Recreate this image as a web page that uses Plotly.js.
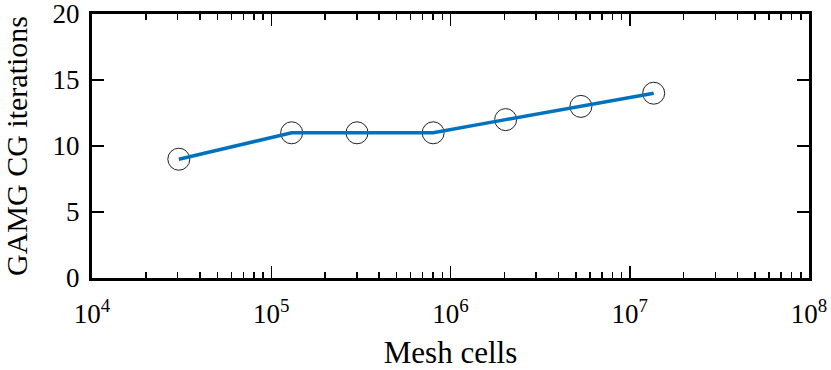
<!DOCTYPE html>
<html>
<head>
<meta charset="utf-8">
<script src="https://cdn.plot.ly/plotly-3.0.1.min.js"></script>
<style>
  html, body { margin: 0; padding: 0; background: #fff; }
  #chart { width: 831px; height: 370px; }
</style>
</head>
<body>
<div id="chart"></div>
<script>
// Mesh size vs GAMG CG iteration count
const meshCells = [3.05e4, 1.30e5, 3.01e5, 8.0e5, 2.03e6, 5.34e6, 1.36e7];
const cgIterations = [9, 11, 11, 11, 12, 13, 14];

// Axis ticks
const xTickVals = [1e4, 1e5, 1e6, 1e7, 1e8];
const xTickText = ['10<sup>4</sup>', '10<sup>5</sup>', '10<sup>6</sup>', '10<sup>7</sup>', '10<sup>8</sup>'];
const yTickVals = [0, 5, 10, 15, 20];

const font = '"Liberation Serif", "Times New Roman", serif';

// circles first so the line sits on top of them
const markerTrace = {
    x: meshCells,
    y: cgIterations,
    mode: 'markers',
    marker: {
        symbol: 'circle-open',
        size: 22,
        color: '#222',
        line: { width: 1, color: '#222' }
    },
    hoverinfo: 'skip'
};

const lineTrace = {
    x: meshCells,
    y: cgIterations,
    mode: 'lines',
    line: { color: '#0072BD', width: 3.5 }
};

const layout = {
    width: 831,
    height: 370,
    margin: { l: 92, r: 22, t: 14, b: 92 },
    showlegend: false,
    paper_bgcolor: '#fff',
    plot_bgcolor: '#fff',
    font: { family: font, size: 27, color: '#000' },
    xaxis: {
        type: 'log',
        range: [4, 8],
        tickmode: 'array',
        tickvals: xTickVals,
        ticktext: xTickText,
        tickfont: { family: font, size: 27 },
        ticklabeloverflow: 'allow',
        ticks: 'inside',
        ticklen: 12,
        tickwidth: 1.5,
        tickcolor: '#000',
        minor: { dtick: 'D1', ticks: 'inside', ticklen: 6, tickwidth: 1.5, tickcolor: '#000' },
        showline: true,
        linewidth: 3,
        linecolor: '#000',
        mirror: 'ticks',
        showgrid: false,
        zeroline: false,
        ticklabelstandoff: 10,
        title: { text: 'Mesh cells', font: { family: font, size: 31 }, standoff: 14 },
        automargin: false
    },
    yaxis: {
        range: [0, 20],
        tickmode: 'array',
        tickvals: yTickVals,
        tickfont: { family: font, size: 27 },
        ticklabeloverflow: 'allow',
        ticks: 'inside',
        ticklen: 12,
        tickwidth: 1.5,
        tickcolor: '#000',
        showline: true,
        linewidth: 3,
        linecolor: '#000',
        mirror: 'ticks',
        showgrid: false,
        zeroline: false,
        ticklabelstandoff: 4,
        title: { text: 'GAMG CG iterations', font: { family: font, size: 30 }, standoff: 19 },
        automargin: false
    }
};

Plotly.newPlot('chart', [markerTrace, lineTrace], layout, { displayModeBar: false, staticPlot: true });
</script>
</body>
</html>
